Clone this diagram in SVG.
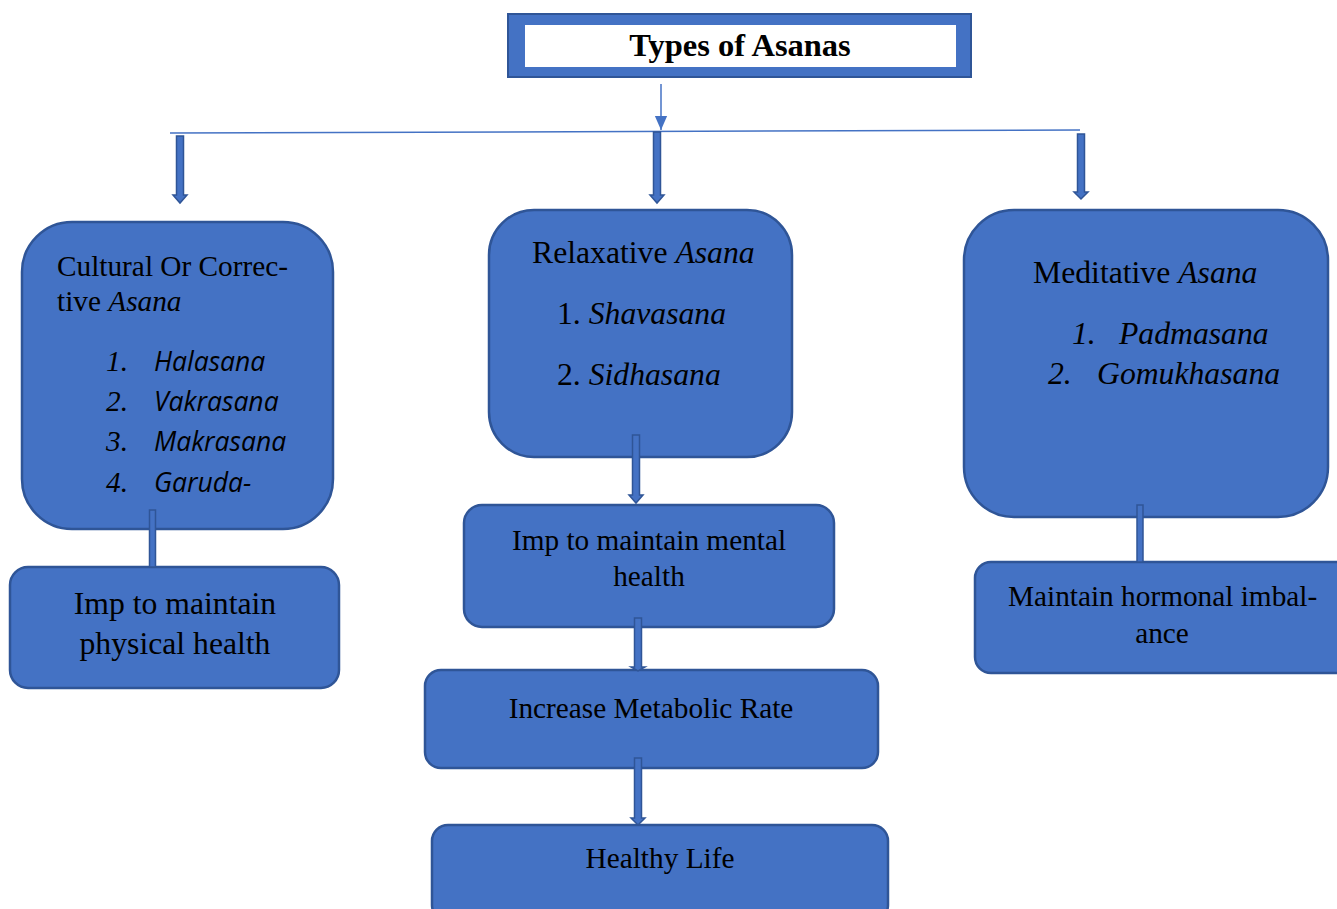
<svg xmlns="http://www.w3.org/2000/svg" width="1337" height="909" viewBox="0 0 1337 909">
<style>
.box{fill:#4472C4;stroke:#2F5597;stroke-width:2.5}
.t{font-family:"Liberation Serif","Times New Roman",serif;font-size:29.3px;fill:#000}
.b{font-size:31.7px}
.i{font-style:italic}
.s{font-family:"Open Sans","Noto Sans",sans-serif;font-style:italic;font-size:26.5px;fill:#000}
.ba{fill:#4472C4;stroke:#2F5597;stroke-width:1.5}
</style>
<defs>
<marker id="ah" markerWidth="14" markerHeight="16" refX="16" refY="7" orient="auto" markerUnits="userSpaceOnUse" viewBox="0 0 16 14">
<path d="M0,0 L16,7 L0,14 z" fill="#4472C4"/>
</marker>
</defs>
<g id="title">
<rect x="508" y="14" width="463" height="63" fill="#4472C4" stroke="#2F5597" stroke-width="2"/>
<rect x="525" y="25" width="431" height="42" fill="#fff"/>
<text x="740" y="56" text-anchor="middle" class="t" style="font-weight:bold;font-size:32.5px">Types of Asanas</text>
</g>
<g id="cultural">
<rect class="box" x="22" y="222" width="311" height="307" rx="50"/>
<text x="57" y="276" class="t">Cultural Or Correc-</text>
<text x="57" y="311" class="t">tive <tspan class="i">Asana</tspan></text>
<text x="106" y="371" class="t i">1.</text><text x="154" y="371" class="s">Halasana</text>
<text x="106" y="411" class="t i">2.</text><text x="154" y="411" class="s">Vakrasana</text>
<text x="106" y="451" class="t i">3.</text><text x="154" y="451" class="s">Makrasana</text>
<text x="106" y="492" class="t i">4.</text><text x="154" y="492" class="s">Garuda-</text>
</g>
<g id="physical">
<rect class="box" x="10" y="567" width="329" height="121" rx="18"/>
<text x="175" y="614" text-anchor="middle" class="t" style="font-size:31.7px">Imp to maintain</text>
<text x="175" y="654" text-anchor="middle" class="t" style="font-size:31.7px">physical health</text>
</g>
<g id="relaxative">
<rect class="box" x="489" y="210" width="303" height="247" rx="45"/>
<text x="532" y="263" class="t b">Relaxative <tspan class="i">Asana</tspan></text>
<text x="557" y="324" class="t b">1. <tspan class="i">Shavasana</tspan></text>
<text x="557" y="385" class="t b">2. <tspan class="i">Sidhasana</tspan></text>
</g>
<g id="mental">
<rect class="box" x="464" y="505" width="370" height="122" rx="18"/>
<text x="649" y="550" text-anchor="middle" class="t">Imp to maintain mental</text>
<text x="649" y="586" text-anchor="middle" class="t">health</text>
</g>
<g id="metabolic">
<rect class="box" x="425" y="670" width="453" height="98" rx="16"/>
<text x="651" y="718" text-anchor="middle" class="t">Increase Metabolic Rate</text>
</g>
<g id="healthy">
<rect class="box" x="432" y="825" width="456" height="96" rx="16"/>
<text x="660" y="868" text-anchor="middle" class="t">Healthy Life</text>
</g>
<g id="meditative">
<rect class="box" x="964" y="210" width="364" height="307" rx="50"/>
<text x="1033" y="283" class="t b">Meditative <tspan class="i">Asana</tspan></text>
<text x="1072" y="344" class="t b i">1.</text><text x="1119" y="344" class="t b i">Padmasana</text>
<text x="1048" y="384" class="t b i">2.</text><text x="1097" y="384" class="t b i">Gomukhasana</text>
</g>
<g id="hormonal">
<rect class="box" x="975" y="562" width="380" height="111" rx="16"/>
<text x="1008" y="606" class="t">Maintain hormonal imbal-</text>
<text x="1162" y="643" text-anchor="middle" class="t">ance</text>
</g>
<g id="connectors">
<line x1="661" y1="84" x2="661" y2="130" stroke="#4472C4" stroke-width="1.5" marker-end="url(#ah)"/>
<line x1="170" y1="133" x2="1080" y2="130" stroke="#4472C4" stroke-width="1.5"/>
<polygon class="ba" points="176.5,136 183.5,136 183.5,195 187,195 180,203 173,195 176.5,195"/>
<polygon class="ba" points="653.5,132 660.5,132 660.5,195 664,195 657,203 650,195 653.5,195"/>
<polygon class="ba" points="1077.5,134 1084.5,134 1084.5,192 1088,192 1081,199 1074,192 1077.5,192"/>
<rect class="ba" x="149.5" y="510" width="6" height="57"/>
<polygon class="ba" points="632.5,435 639.5,435 639.5,495 643,495 636,503 629,495 632.5,495"/>
<polygon class="ba" points="634.5,618 641.5,618 641.5,667 645,667 638,671 631,667 634.5,667"/>
<polygon class="ba" points="634.5,758 641.5,758 641.5,818 645,818 638,825 631,818 634.5,818"/>
<rect class="ba" x="1137" y="505" width="6" height="57"/>
</g>
</svg>
